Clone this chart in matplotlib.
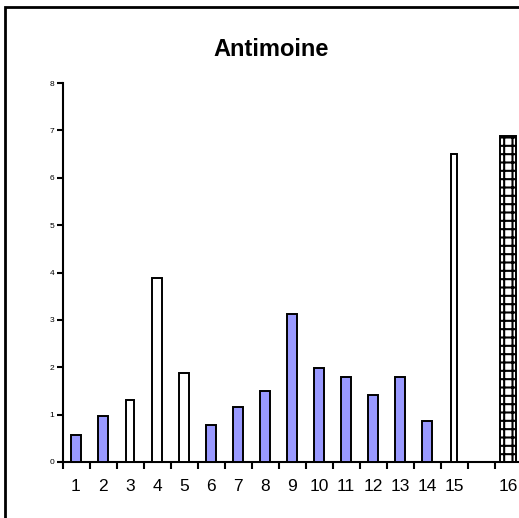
import matplotlib
matplotlib.use("Agg")
import matplotlib.pyplot as plt
from matplotlib.patches import Rectangle

plt.rcParams['font.family'] = ['Liberation Sans', 'DejaVu Sans']
plt.rcParams['hatch.linewidth'] = 1.5

### Data
categories = ['1', '2', '3', '4', '5', '6', '7', '8', '9', '10', '11', '12', '13', '14', '15', '16']
slots = [1, 2, 3, 4, 5, 6, 7, 8, 9, 10, 11, 12, 13, 14, 15, 17]  # one empty slot before 16
values = [0.58, 0.97, 1.3, 3.88, 1.88, 0.78, 1.16, 1.5, 3.12, 1.98, 1.79, 1.41, 1.79, 0.86, 6.5, 6.88]
kinds = ['blue', 'blue', 'white', 'white', 'white', 'blue', 'blue', 'blue', 'blue',
         'blue', 'blue', 'blue', 'blue', 'blue', 'white', 'hatch']

### Styles
fills = {'blue': '#9999FF', 'white': 'white', 'hatch': 'white'}
widths = [0.37, 0.37, 0.3, 0.37, 0.37, 0.37, 0.37, 0.37, 0.37,
          0.37, 0.37, 0.37, 0.37, 0.37, 0.25, 0.62]

W, H = 519, 518
fig = plt.figure(figsize=(W / 100, H / 100), dpi=100)
ax = fig.add_axes([62.5 / W, 56 / H, 513 / W, 379 / H])

for x, v, k, w in zip(slots, values, kinds, widths):
    ax.bar(x, v, width=w, color=fills[k], edgecolor='black', linewidth=1.4,
           hatch='++' if k == 'hatch' else None, zorder=3)

ax.set_xlim(0.5, 19.5)
ax.set_ylim(0, 8)

# category labels in the middle, ticks on the slot boundaries
ax.set_xticks(slots)
ax.set_xticklabels(categories, fontsize=12.5)
ax.tick_params(axis='x', which='major', length=0, pad=12)
ax.set_xticks([b + 0.5 for b in range(0, 19)], minor=True)
ax.tick_params(axis='x', which='minor', length=5, width=1.5, direction='out')

ax.set_yticks(range(0, 9))
ax.tick_params(axis='y', labelsize=6, length=4, width=1.5, direction='out', pad=2)

for side in ['top', 'right']:
    ax.spines[side].set_visible(False)
for side in ['left', 'bottom']:
    ax.spines[side].set_linewidth(1.5)

fig.text(271 / W, 1 - 56 / H, 'Antimoine', ha='center', va='baseline',
         fontsize=17, fontweight='bold')

# chart area border (cut off at the right and bottom)
fig.patches.append(Rectangle((5 / W, -0.1), 1.5, 1.1 - 7 / H, transform=fig.transFigure,
                             fill=False, edgecolor='black', linewidth=2, clip_on=False))

fig.savefig('out.png', dpi=100)
